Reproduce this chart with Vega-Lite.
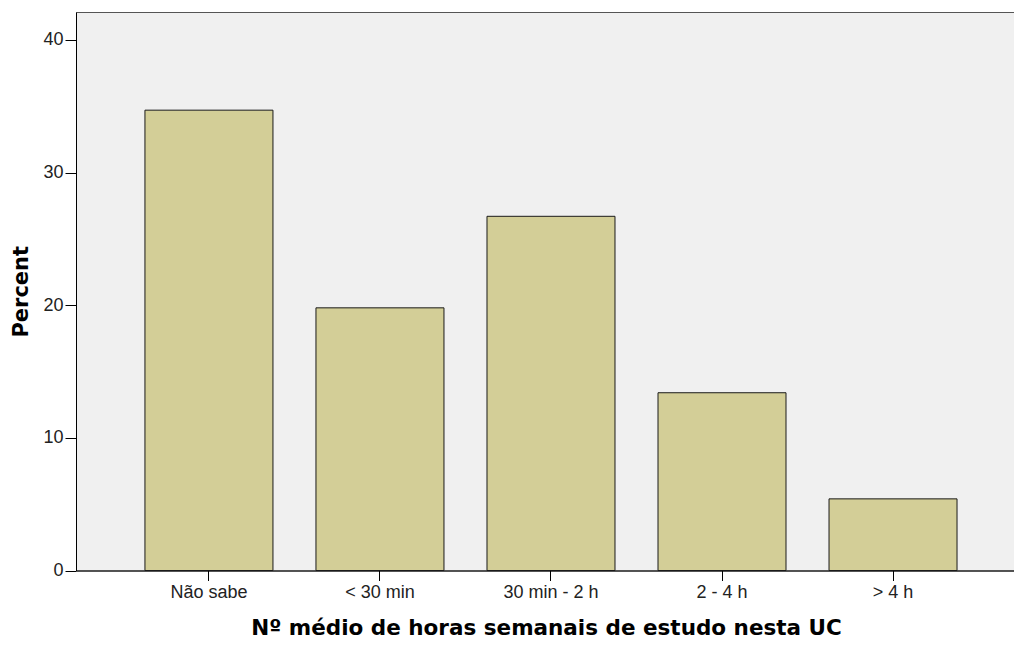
{
  "$schema": "https://vega.github.io/schema/vega-lite/v6.json",
  "width": 940,
  "height": 558.5,
  "autosize": {"type": "none"},
  "padding": {"left": 76, "top": 12, "right": 0, "bottom": 75.5},
  "background": "#ffffff",
  "config": {
    "view": {"fill": "#f0f0f0", "stroke": "#555555", "strokeWidth": 1},
    "axis": {
      "domainColor": "#000000",
      "domainWidth": 1,
      "tickColor": "#000000",
      "tickWidth": 1,
      "labelFont": "Liberation Sans",
      "labelColor": "#222222",
      "titleFont": "DejaVu Sans",
      "titleFontWeight": "bold",
      "titleColor": "#000000",
      "grid": false
    }
  },
  "data": {
    "values": [
      {"cat": "Não sabe", "pct": 34.7},
      {"cat": "< 30 min", "pct": 19.8},
      {"cat": "30 min - 2 h", "pct": 26.7},
      {"cat": "2 - 4 h", "pct": 13.4},
      {"cat": "> 4 h", "pct": 5.4}
    ]
  },
  "mark": {"type": "bar", "color": "#d3ce97", "stroke": "#1a1a1a", "strokeWidth": 1},
  "encoding": {
    "x": {
      "field": "cat",
      "type": "nominal",
      "sort": null,
      "scale": {"paddingInner": 0.2515, "paddingOuter": 0.374, "align": 0.539},
      "axis": {
        "title": "Nº médio de horas semanais de estudo nesta UC",
        "titleFontSize": 21.5,
        "titlePadding": 16,
        "labelFontSize": 18,
        "labelAngle": 0,
        "tickSize": 10,
        "labelPadding": 3
      }
    },
    "y": {
      "field": "pct",
      "type": "quantitative",
      "scale": {"domain": [0, 42.1], "nice": false},
      "axis": {
        "title": "Percent",
        "titleFontSize": 21,
        "titlePadding": 11,
        "values": [0, 10, 20, 30, 40],
        "labelFontSize": 18,
        "tickSize": 11,
        "labelPadding": 2
      }
    }
  }
}
